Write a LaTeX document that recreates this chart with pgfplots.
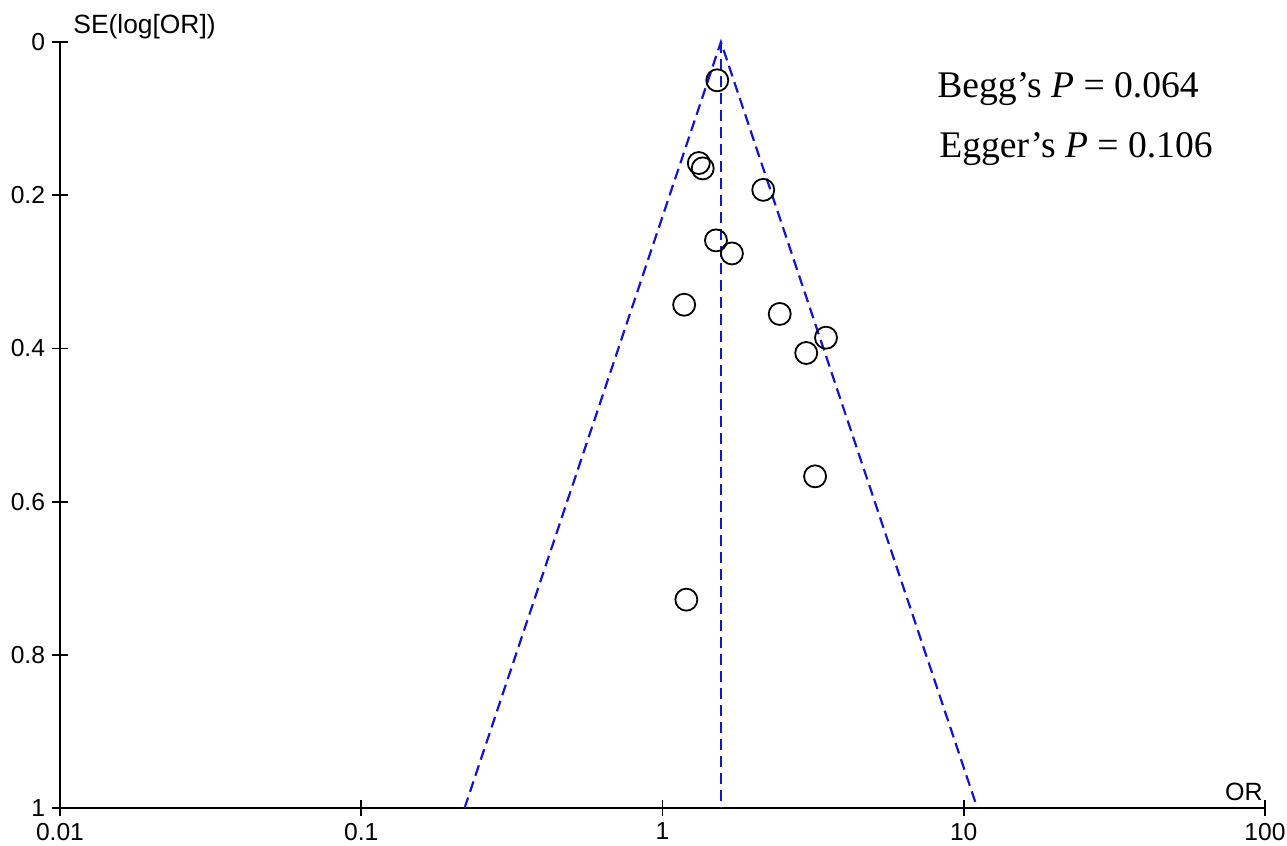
\documentclass[border=0pt]{standalone}
\usepackage{fontspec}
\setmainfont{Liberation Sans}
\newfontfamily\timesfont{Liberation Serif}
\usepackage{pgfplots}
\pgfplotsset{compat=1.18}
\definecolor{funnelblue}{RGB}{20,20,200}
\begin{document}
\begin{tikzpicture}
\begin{axis}[
  scale only axis, width=602.5pt, height=383pt,
  xmode=log, xmin=0.01, xmax=100, ymin=0, ymax=1, y dir=reverse,
  axis lines*=left,
  xtick={0.01,0.1,1,10,100}, xticklabels={0.01,0.1,1,10,100},
  xminorticks=false,
  ytick={0,0.2,0.4,0.6,0.8,1}, yticklabels={0,0.2,0.4,0.6,0.8,1},
  tick align=center, major tick length=8pt,
  tick style={black, line width=0.9pt},
  axis line style={line width=1pt},
  ticklabel style={font=\fontsize{12.3}{14}\selectfont},
  clip=false,
]
\addplot[funnelblue, line width=1.1pt, dash pattern=on 5.5pt off 3pt] coordinates {(0.2203,1) (1.563,0) (11.09,1)};
\addplot[funnelblue, line width=1.1pt, dash pattern=on 5.5pt off 3pt] coordinates {(1.563,0) (1.563,1)};
\addplot[only marks, mark=o, mark size=5.5pt, mark options={line width=0.9pt, black}] coordinates {
(1.52,0.050)
(1.32,0.158)
(1.36,0.165)
(2.16,0.193)
(1.505,0.259)
(1.70,0.276)
(1.18,0.343)
(2.45,0.355)
(3.49,0.386)
(3.00,0.406)
(3.21,0.567)
(1.20,0.728)
};
\node[anchor=base west, inner sep=0pt, font=\fontsize{13.2}{15}\selectfont] at ([xshift=6.5pt,yshift=4.5pt]axis cs:0.01,0) {SE(log[OR])};
\node[anchor=base east, inner sep=0pt, font=\fontsize{12.5}{15}\selectfont] at ([xshift=-1pt,yshift=4pt]axis cs:100,1) {OR};
\node[anchor=base west, inner sep=0pt, font=\timesfont\fontsize{18.8}{22}\selectfont] at ([xshift=438.5pt,yshift=-27.5pt]axis cs:0.01,0) {Begg’s \textit{P} = 0.064};
\node[anchor=base west, inner sep=0pt, font=\timesfont\fontsize{18.8}{22}\selectfont] at ([xshift=439.5pt,yshift=-57.5pt]axis cs:0.01,0) {Egger’s \textit{P} = 0.106};
\end{axis}
\pgfresetboundingbox
\path ([shift={(-30pt,-19pt)}]current axis.south west) rectangle ([shift={(11pt,21pt)}]current axis.north east);
\end{tikzpicture}
\end{document}
